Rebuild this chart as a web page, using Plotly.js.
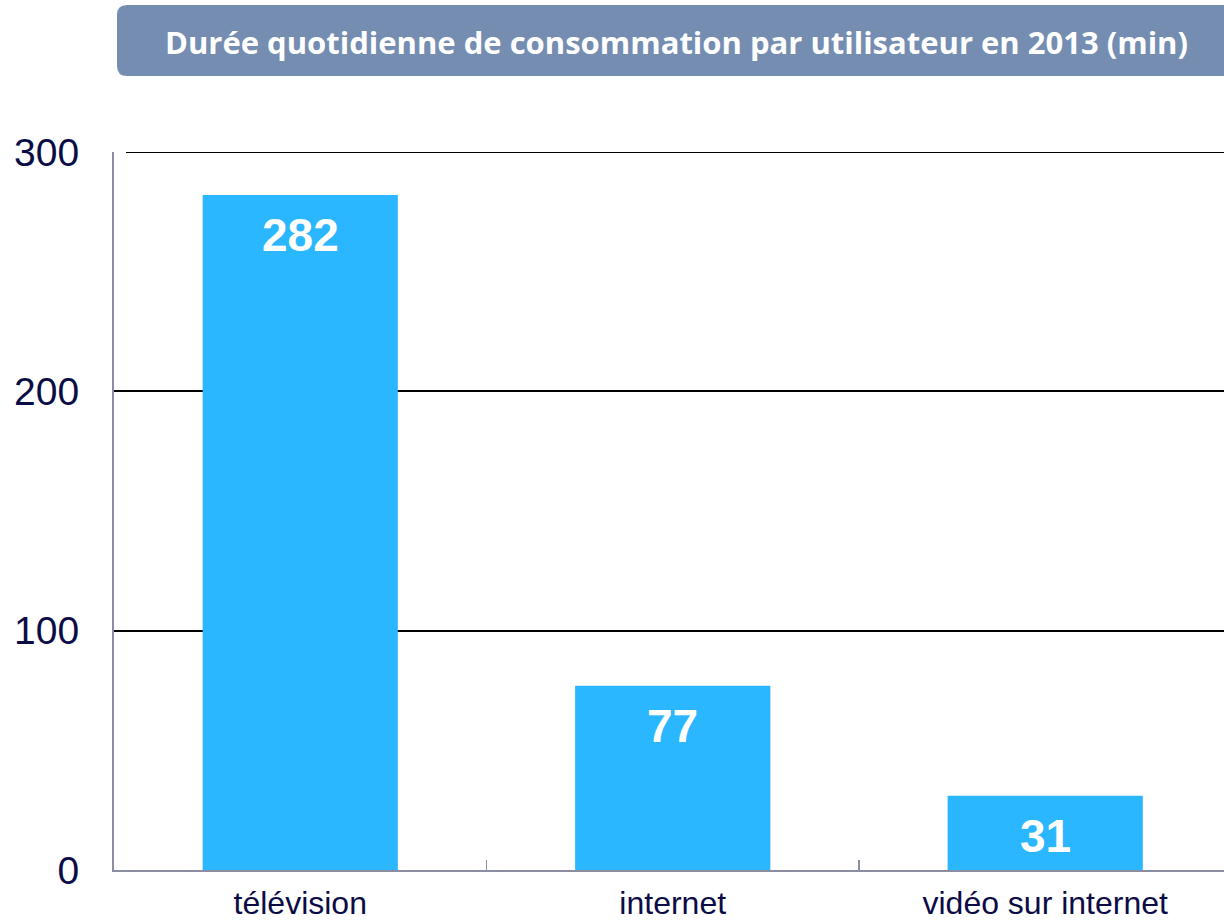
<!DOCTYPE html>
<html>
<head>
<meta charset="utf-8">
<script src="https://cdn.plot.ly/plotly-3.0.1.min.js"></script>
<style>html,body{margin:0;padding:0;background:#fff;}#chart{width:1224px;height:923px;}</style>
</head>
<body>
<div id="chart"></div>
<script>
const categories = ["télévision", "internet", "vidéo sur internet"];
const values = [282, 77, 31];
const yTicks = [0, 100, 200, 300];
const titleText = "Durée quotidienne de consommation par utilisateur en 2013 (min)";

const W = 1224, H = 923;
const L = 114, R = 0, T = 152, B = 53;
const pw = W - L - R, ph = H - T - B;
function px(x) { return (x - L) / pw; }
function py(y) { return (H - B - y) / ph; }

// rounded title box
const bx0 = px(117), bx1 = px(1240), by0 = py(76), by1 = py(5);
const rx = 10 / pw, ry = 10 / ph;
const path = `M ${bx0 + rx} ${by1} L ${bx1 - rx} ${by1} Q ${bx1} ${by1} ${bx1} ${by1 - ry} L ${bx1} ${by0 + ry} Q ${bx1} ${by0} ${bx1 - rx} ${by0} L ${bx0 + rx} ${by0} Q ${bx0} ${by0} ${bx0} ${by0 + ry} L ${bx0} ${by1 - ry} Q ${bx0} ${by1} ${bx0 + rx} ${by1} Z`;

const trace = {
  type: "bar",
  x: categories,
  y: values,
  width: 0.524,
  marker: { color: "#2bb7ff" },
  hoverinfo: "skip"
};

const annotations = categories.map((c, i) => ({
  x: c, y: values[i], xref: "x", yref: "y",
  text: String(values[i]), showarrow: false,
  yanchor: "middle", yshift: -40,
  font: { family: "Liberation Sans, Arial, sans-serif", size: 46, color: "#ffffff", weight: "bold" }
}));
annotations.push({
  x: px(676.5), y: py(42), xref: "paper", yref: "paper",
  text: "<b>" + titleText + "</b>", showarrow: false,
  xanchor: "center", yanchor: "middle",
  font: { family: "Open Sans, sans-serif", size: 31, color: "#ffffff" }
});

const topVal = Math.max(...yTicks);

const layout = {
  width: W, height: H,
  margin: { l: L, r: R, t: T, b: B, pad: 0 },
  paper_bgcolor: "#ffffff", plot_bgcolor: "#ffffff",
  showlegend: false,
  xaxis: {
    type: "category",
    range: [-0.5, 2.48],
    showline: true, linecolor: "#8c8ca3", linewidth: 2,
    ticks: "inside", tickson: "boundaries", ticklen: 10, tickcolor: "#8c8ca3", tickwidth: 1.5,
    showgrid: false,
    tickfont: { family: "Liberation Sans, Arial, sans-serif", size: 32, color: "#0b0b45" },
    ticklabelstandoff: 4,
    fixedrange: true
  },
  yaxis: {
    range: [0, topVal],
    tickvals: yTicks,
    ticktext: yTicks.map(String),
    showline: true, linecolor: "#8c8ca3", linewidth: 2,
    showgrid: true, gridcolor: "#000000", gridwidth: 2,
    zeroline: false,
    ticks: "",
    tickfont: { family: "Liberation Sans, Arial, sans-serif", size: 39, color: "#0b0b45" },
    ticklabelstandoff: 25,
    fixedrange: true
  },
  shapes: [{
    type: "path", xref: "paper", yref: "paper", path: path,
    fillcolor: "#748db1", line: { width: 0 }, layer: "above"
  }, {
    type: "line", xref: "paper", yref: "y", x0: px(126), x1: 1, y0: topVal, y1: topVal,
    line: { color: "#000000", width: 2 }, layer: "above"
  }],
  annotations: annotations
};

Plotly.newPlot("chart", [trace], layout, { displayModeBar: false, staticPlot: true });
</script>
</body>
</html>
